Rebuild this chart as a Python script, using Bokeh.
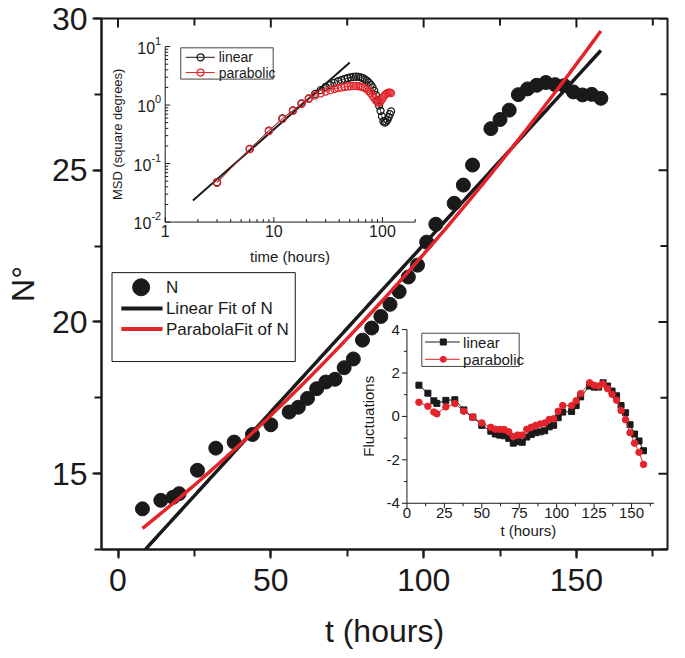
import numpy as np
from bokeh.plotting import figure
from bokeh.models import Range1d, SingleIntervalTicker
from bokeh.core.properties import value
from bokeh.embed import file_html
from bokeh.resources import INLINE

# ---------------- data ----------------
hours = [8, 14, 18, 20, 26, 32, 38, 44, 50, 56, 59, 62, 65, 68, 71, 74, 77, 80, 83, 86, 89,
         92, 95, 98, 101, 104, 110, 113, 116, 122, 125, 128, 131, 134, 137, 140, 143, 146,
         149, 152, 155, 158]
n_values = [13.84, 14.12, 14.22, 14.34, 15.11, 15.84, 16.04, 16.29, 16.61, 17.03, 17.19,
            17.48, 17.80, 18.02, 18.11, 18.49, 18.78, 19.40, 19.80, 20.18, 20.58, 21.00,
            21.48, 21.87, 22.63, 23.22, 23.91, 24.51, 25.17, 26.37, 26.67, 26.98, 27.49,
            27.68, 27.80, 27.89, 27.82, 27.79, 27.58, 27.48, 27.50, 27.37]
fluct_linear = [1.44, 1.07, 0.72, 0.60, 0.74, 0.77, 0.30, -0.03, -0.41, -0.68, -0.81, -0.86,
                -0.89, -1.01, -1.23, -1.16, -1.19, -0.95, -0.83, -0.75, -0.71, -0.66, -0.48,
                -0.41, -0.06, 0.20, 0.23, 0.50, 0.90, 1.40, 1.35, 1.35, 1.55, 1.40, 1.17,
                0.95, 0.50, 0.17, -0.38, -0.81, -1.13, -1.58]
fluct_parabolic = [0.65, 0.47, 0.20, 0.12, 0.44, 0.59, 0.24, -0.03, -0.30, -0.50, -0.59,
                   -0.60, -0.60, -0.71, -0.93, -0.86, -0.86, -0.59, -0.50, -0.41, -0.35,
                   -0.30, -0.14, -0.11, 0.24, 0.50, 0.50, 0.72, 1.05, 1.55, 1.44, 1.40, 1.50,
                   1.28, 1.02, 0.75, 0.27, -0.15, -0.75, -1.23, -1.65, -2.21]
msd_lag = [3, 6, 9, 12, 15, 18, 21, 24, 27, 30, 33, 36, 39, 42, 45, 48, 51, 54, 57, 60, 63,
           66, 69, 72, 75, 78, 81, 84, 87, 90, 93, 96, 99, 102, 105, 108, 111, 114, 117, 120]
msd_linear = [0.048, 0.178, 0.365, 0.59, 0.81, 1.07, 1.30, 1.55, 1.80, 2.05, 2.20, 2.40,
              2.55, 2.68, 2.80, 2.90, 2.98, 3.03, 3.05, 3.03, 2.97, 2.88, 2.75, 2.60, 2.42,
              2.22, 2.00, 1.75, 1.48, 1.20, 0.98, 0.80, 0.64, 0.53, 0.50, 0.52, 0.56, 0.62,
              0.70, 0.78]
msd_parabolic = [0.047, 0.176, 0.36, 0.58, 0.80, 1.05, 1.28, 1.45, 1.58, 1.70, 1.80, 1.88,
                 1.95, 2.00, 2.05, 2.08, 2.10, 2.12, 2.12, 2.10, 2.07, 2.02, 1.95, 1.85, 1.72,
                 1.60, 1.45, 1.32, 1.20, 1.12, 1.10, 1.15, 1.25, 1.38, 1.48, 1.55, 1.60, 1.63,
                 1.63, 1.60]
msd_fit_lag = [1.8, 50.0]
msd_fit_value = [0.0233, 5.35]

main_x_major = [0, 50, 100, 150]
main_x_minor = [25, 75, 125, 175]
main_y_major = [15, 20, 25, 30]
main_y_minor = [12.5, 17.5, 22.5, 27.5]
inset1_x_ticks = [1, 10, 100]
inset1_x_labels = ["1", "10", "100"]
inset1_x_end = 200
inset1_y_ticks = [0.01, 0.1, 1, 10]
inset1_y_exponents = ["-2", "-1", "0", "1"]
inset2_x_ticks = [0, 25, 50, 75, 100, 125, 150]
inset2_x_end = 165
inset2_y_ticks = [-4, -2, 0, 2, 4]

BLACK = "#1a1a1a"
RED = "#e3242b"
FONT = "Liberation Sans"

# ---------------- main figure ----------------
# reference frame edges in picture pixels (used to place the insets)
L0, R0, T0, B0 = 111.7, 683.0, 14.0, 557.3
XR = (-5.4, 179.8)
YR = (12.5, 30.0)
FW, FH = 566, 531
BL, BT = 101, 18

p = figure(frame_width=FW, frame_height=FH, min_border_left=BL, min_border_right=2,
           min_border_top=BT, min_border_bottom=93,
           x_range=Range1d(*XR), y_range=Range1d(*YR),
           output_backend="svg", toolbar_location=None)
p.grid.visible = False
p.outline_line_color = BLACK
p.outline_line_width = 2
p.background_fill_color = "white"
p.border_fill_color = "white"

for ax in (p.xaxis[0], p.yaxis[0]):
    ax.axis_line_width = 2
    ax.axis_line_color = BLACK
    ax.major_tick_line_width = 2
    ax.minor_tick_line_width = 2
    ax.major_tick_line_color = BLACK
    ax.minor_tick_line_color = BLACK
    ax.major_tick_out, ax.major_tick_in = 9, 0
    ax.minor_tick_out, ax.minor_tick_in = 7, 0
    ax.major_label_text_font = FONT
    ax.major_label_text_font_size = "32px"
    ax.major_label_text_color = BLACK
    ax.axis_label_text_font = FONT
    ax.axis_label_text_font_size = "32px"
    ax.axis_label_text_font_style = "normal"
    ax.axis_label_text_color = BLACK
p.xaxis[0].major_label_standoff = 10
p.yaxis[0].major_label_standoff = 5
p.xaxis[0].axis_label_standoff = 19
p.yaxis[0].axis_label_standoff = 8
p.xaxis[0].ticker = SingleIntervalTicker(interval=50, num_minor_ticks=2)
p.yaxis[0].ticker = SingleIntervalTicker(interval=5, num_minor_ticks=2)
p.xaxis[0].axis_label = "t (hours)"
p.yaxis[0].axis_label = "N°"

# inward ticks on the top and right edges of the frame
p.ray(main_x_major, [YR[1]] * 4, length=9, length_units="screen", angle=-np.pi / 2,
      line_color=BLACK, line_width=2)
p.ray(main_x_minor, [YR[1]] * 4, length=7, length_units="screen", angle=-np.pi / 2,
      line_color=BLACK, line_width=2)
p.ray([XR[1]] * 4, main_y_major, length=9, length_units="screen", angle=np.pi,
      line_color=BLACK, line_width=2)
p.ray([XR[1]] * 4, main_y_minor, length=7, length_units="screen", angle=np.pi,
      line_color=BLACK, line_width=2)


def mapped(pa, va, pb, vb, lo, hi):
    k = (vb - va) / (pb - pa)
    return Range1d(start=va + (lo - pa) * k, end=va + (hi - pa) * k)


p.extra_x_ranges = {
    "px": Range1d(start=L0, end=R0),
    "i1x": mapped(176.0, 0.0, 428.3, np.log10(inset1_x_end), L0, R0),
    "i2x": mapped(420.0, 0.0, 646.7, 150.0, L0, R0),
}
p.extra_y_ranges = {
    "py": Range1d(start=B0, end=T0),
    "i1y": mapped(222.3, -2.0, 42.7, 1.0, B0, T0),
    "i2y": mapped(510.0, -4.0, 332.3, 4.0, B0, T0),
}


def txt(x, y, s, xr, yr_, size, align="center", baseline="middle", angle=0.0, font=FONT,
        xo=0, yo=0, color=BLACK):
    p.text(x=[x], y=[y], text=[s], x_range_name=xr, y_range_name=yr_,
           text_font=value(font), text_font_size=value(f"{size}px"), text_align=align,
           text_baseline=baseline, angle=angle, x_offset=xo, y_offset=yo, text_color=color)


# ---------------- main data ----------------
h = np.array(hours, dtype=float)
n = np.array(n_values, dtype=float)
lin = np.polyfit(h, n, 1)
par = np.polyfit(h, n, 2)
fx = np.linspace(h[0], h[-1], 200)

p.scatter(h, n, marker="circle", size=14, fill_color=BLACK, line_color=BLACK)
p.line(fx, np.polyval(lin, fx), line_color=BLACK, line_width=3.5)
p.line(fx, np.polyval(par, fx), line_color=RED, line_width=3.5)

# main legend (picture-pixel coordinates)
p.quad(left=[122.3], right=[307.3], top=[274], bottom=[365], fill_color="white",
       line_color=BLACK, line_width=1, x_range_name="px", y_range_name="py")
p.scatter([151.7], [289], marker="circle", size=17, fill_color=BLACK, line_color=BLACK,
          x_range_name="px", y_range_name="py")
p.line([131.7, 173.3], [310.8, 310.8], line_color=BLACK, line_width=4,
       x_range_name="px", y_range_name="py")
p.line([131.7, 173.3], [331.7, 331.7], line_color=RED, line_width=4,
       x_range_name="px", y_range_name="py")
for label, yy in (("N", 289), ("Linear Fit of N", 310.8), ("ParabolaFit of N", 331.7)):
    txt(176.7, yy, label, "px", "py", 17, align="left")

# ---------------- inset 1 : MSD log-log ----------------
lg = np.log10
I1 = dict(x_range_name="i1x", y_range_name="i1y")
ix0, ix1 = lg(inset1_x_ticks[0]), lg(inset1_x_end)
iy0, iy1 = lg(inset1_y_ticks[0]), lg(inset1_y_ticks[-1])
p.line([ix0, ix1], [iy0, iy0], line_color=BLACK, line_width=1, **I1)
p.line([ix0, ix0], [iy0, iy1], line_color=BLACK, line_width=1, **I1)
mx = lg(np.array(inset1_x_ticks, dtype=float))
mnx = lg(np.array([k * 10.0 ** e for e in (0, 1) for k in range(2, 10)] + [inset1_x_end]))
p.ray(mx, [iy0] * len(mx), length=5, length_units="screen", angle=np.pi / 2,
      line_color=BLACK, line_width=1, **I1)
p.ray(mnx, [iy0] * len(mnx), length=3, length_units="screen", angle=np.pi / 2,
      line_color=BLACK, line_width=1, **I1)
my = lg(np.array(inset1_y_ticks, dtype=float))
mny = lg(np.array([k * 10.0 ** e for e in (-2, -1, 0) for k in range(2, 10)]))
p.ray([ix0] * len(my), my, length=5, length_units="screen", angle=0.0,
      line_color=BLACK, line_width=1, **I1)
p.ray([ix0] * len(mny), mny, length=3, length_units="screen", angle=0.0,
      line_color=BLACK, line_width=1, **I1)
for v, s in zip(mx, inset1_x_labels):
    txt(v, iy0, s, "i1x", "i1y", 16, baseline="top", yo=3)
for v, e in zip(my, inset1_y_exponents):
    ew = 6.1 * sum(c.isdigit() for c in e) + 3.7 * e.count("-")
    txt(ix0, v, e, "i1x", "i1y", 11, align="right", xo=-4, yo=-6)
    txt(ix0, v, "10", "i1x", "i1y", 16, align="right", xo=-4 - ew, yo=1)
txt(302, 258, "time (hours)", "px", "py", 15)
txt(128.3, 132.5, "MSD (square degrees)", "px", "py", 13, angle=np.pi / 2)

p.line(lg(msd_fit_lag), lg(msd_fit_value), line_color=BLACK, line_width=2, **I1)
p.line(lg(msd_lag), lg(msd_linear), line_color=BLACK, line_width=0.8, **I1)
p.scatter(lg(msd_lag), lg(msd_linear), marker="circle", size=7, fill_color=None,
          line_color=BLACK, line_width=1.3, **I1)
p.line(lg(msd_lag), lg(msd_parabolic), line_color=RED, line_width=0.8, **I1)
p.scatter(lg(msd_lag), lg(msd_parabolic), marker="circle", size=7, fill_color=None,
          line_color=RED, line_width=1.3, **I1)

# inset 1 legend
p.quad(left=[191.7], right=[285], top=[44], bottom=[76], fill_color="white",
       line_color="#444444", line_width=1, x_range_name="px", y_range_name="py")
for col, yy, s in ((BLACK, 53.7, "linear"), (RED, 69.3, "parabolic")):
    p.line([196.7, 226], [yy, yy], line_color=col, line_width=1, x_range_name="px",
           y_range_name="py")
    p.scatter([211.7], [yy], marker="circle", size=7, fill_color=None, line_color=col,
              line_width=1.3, x_range_name="px", y_range_name="py")
    txt(230, yy, s, "px", "py", 14, align="left")

# ---------------- inset 2 : fluctuations ----------------
I2 = dict(x_range_name="i2x", y_range_name="i2y")
y_lo, y_hi = inset2_y_ticks[0], inset2_y_ticks[-1]
x_lo = inset2_x_ticks[0]
p.line([x_lo, inset2_x_end], [y_lo, y_lo], line_color=BLACK, line_width=1, **I2)
p.line([x_lo, x_lo], [y_lo, y_hi], line_color=BLACK, line_width=1, **I2)
t2 = np.array(inset2_x_ticks, dtype=float)
t2m = np.append(t2[:-1] + 12.5, t2[-1] + 12.5)
p.ray(t2, [y_lo] * len(t2), length=5, length_units="screen", angle=-np.pi / 2,
      line_color=BLACK, line_width=1, **I2)
p.ray(t2m, [y_lo] * len(t2m), length=3, length_units="screen", angle=-np.pi / 2,
      line_color=BLACK, line_width=1, **I2)
v2 = np.array(inset2_y_ticks, dtype=float)
v2m = v2[:-1] + 1
p.ray([x_lo] * len(v2), v2, length=5, length_units="screen", angle=np.pi,
      line_color=BLACK, line_width=1, **I2)
p.ray([x_lo] * len(v2m), v2m, length=3, length_units="screen", angle=np.pi,
      line_color=BLACK, line_width=1, **I2)
for v in inset2_x_ticks:
    txt(v, y_lo, str(v), "i2x", "i2y", 15, baseline="top", yo=5)
for v in inset2_y_ticks:
    txt(x_lo, v, str(v), "i2x", "i2y", 15, align="right", xo=-7)
txt(542.5, 538.3, "t (hours)", "px", "py", 15)
txt(381.7, 421, "Fluctuations", "px", "py", 15, angle=np.pi / 2)

p.line(hours, fluct_linear, line_color=BLACK, line_width=1, **I2)
p.scatter(hours, fluct_linear, marker="square", size=6, fill_color=BLACK,
          line_color=BLACK, **I2)
p.line(hours, fluct_parabolic, line_color=RED, line_width=1, **I2)
p.scatter(hours, fluct_parabolic, marker="circle", size=6.5, fill_color=RED,
          line_color=RED, **I2)

# inset 2 legend
p.quad(left=[435], right=[533.3], top=[336], bottom=[370], fill_color="white",
       line_color="#444444", line_width=1, x_range_name="px", y_range_name="py")
for col, yy, s, mk in ((BLACK, 345, "linear", "square"), (RED, 362.7, "parabolic", "circle")):
    p.line([438.3, 473.3], [yy, yy], line_color=col, line_width=1, x_range_name="px",
           y_range_name="py")
    p.scatter([456.7], [yy], marker=mk, size=6, fill_color=col, line_color=col,
              x_range_name="px", y_range_name="py")
    txt(476.7, yy, s, "px", "py", 15, align="left")

open("out.html", "w").write(file_html(p, INLINE))
